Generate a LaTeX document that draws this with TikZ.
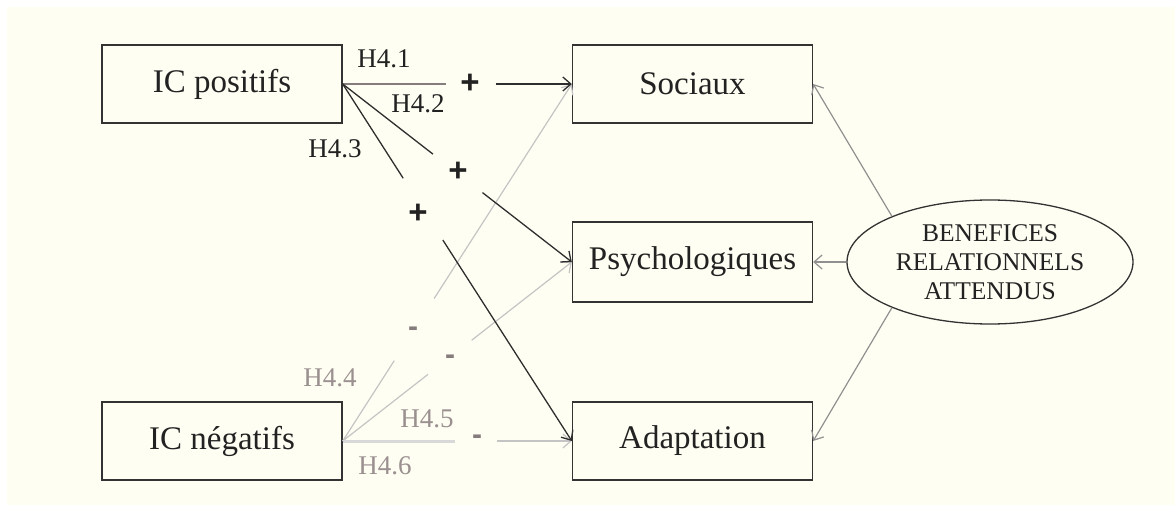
\documentclass[tikz,border=0pt]{standalone}
\usepackage{fontspec}
\setmainfont{Liberation Serif}
\newfontfamily\signfont{Liberation Sans}
\usetikzlibrary{arrows.meta,shapes.geometric,calc}
\definecolor{bgcream}{HTML}{FFFEF2}
\definecolor{boxcol}{HTML}{333333}
\definecolor{textcol}{HTML}{222222}
\definecolor{darkline}{HTML}{2E2E2E}
\definecolor{midgray}{HTML}{857D7D}
\definecolor{lightgray}{HTML}{C4C4C4}
\definecolor{palegray}{HTML}{D8D8D8}
\definecolor{ellgray}{HTML}{909090}
\definecolor{labgray}{HTML}{9A9090}
\tikzset{
  box/.style={draw=boxcol, line width=1.4pt, minimum width=240pt, minimum height=78pt,
    inner sep=0pt, font=\fontsize{33}{38}\selectfont, text=textcol},
  arr/.style={-{Straight Barb[length=8pt,width=14pt]}},
  darkseg/.style={draw=darkline, line width=1.3pt},
  thickseg/.style={draw=midgray, line width=2.8pt},
  greyseg/.style={draw=lightgray, line width=1.2pt},
  paleseg/.style={draw=palegray, line width=3pt},
  ellseg/.style={draw=ellgray, line width=1.2pt},
  hlab/.style={font=\fontsize{27}{30}\selectfont, text=textcol, inner sep=0pt},
  hlabg/.style={font=\fontsize{27}{30}\selectfont, text=labgray, inner sep=0pt},
  plussign/.style={font=\signfont\bfseries\fontsize{33}{33}\selectfont, text=textcol, inner sep=0pt},
  minussign/.style={font=\signfont\bfseries\fontsize{30}{30}\selectfont, text=midgray, inner sep=0pt}
}
\begin{document}
\begin{tikzpicture}[x=1pt,y=-1pt]
\fill[white] (0,0) rectangle (1175,505);
\fill[bgcream] (7,7) rectangle (1175,505);
\useasboundingbox (0,0) rectangle (1175,505);

% nodes
\node[box] (icp) at (222,84) {IC positifs};
\node[box] (soc) at (692.5,84) {Sociaux};
\node[box, minimum height=80pt] (psy) at (692.5,262) {Psychologiques};
\node[box] (ada) at (692.5,441) {Adaptation};
\node[box] (icn) at (222,441) {IC négatifs};
\node[draw=boxcol, line width=1.3pt, ellipse, minimum width=286pt, minimum height=124pt,
      inner sep=0pt, align=center, font=\fontsize{25.5}{29}\selectfont, text=textcol]
      (ell) at (990,262) {BENEFICES\\RELATIONNELS\\ATTENDUS};

% gap coordinates
\coordinate (a1) at ($(icp.east)!0.45!(soc.west)$);
\coordinate (a2) at ($(icp.east)!0.667!(soc.west)$);
\coordinate (b1) at ($(icp.east)!0.394!(psy.west)$);
\coordinate (b2) at ($(icp.east)!0.61!(psy.west)$);
\coordinate (c1) at ($(icp.east)!0.264!(ada.west)$);
\coordinate (c2) at ($(icp.east)!0.437!(ada.west)$);
\coordinate (d1) at ($(icn.east)!0.225!(soc.west)$);
\coordinate (d2) at ($(icn.east)!0.399!(soc.west)$);
\coordinate (e1) at ($(icn.east)!0.372!(psy.west)$);
\coordinate (e2) at ($(icn.east)!0.563!(psy.west)$);
\coordinate (f1) at ($(icn.east)!0.489!(ada.west)$);
\coordinate (f2) at ($(icn.east)!0.675!(ada.west)$);

% grey (negative) connectors
\draw[greyseg] (icn.east) -- (d1);
\draw[greyseg, arr] (d2) -- (soc.west);
\draw[greyseg] (icn.east) -- (e1);
\draw[greyseg, arr] (e2) -- (psy.west);
\draw[paleseg] (icn.east) -- (f1);
\draw[greyseg, arr] (f2) -- (ada.west);

% dark (positive) connectors
\draw[thickseg] (icp.east) -- (a1);
\draw[darkseg, arr] (a2) -- (soc.west);
\draw[darkseg] (icp.east) -- (b1);
\draw[darkseg, arr] (b2) -- (psy.west);
\draw[darkseg] (icp.east) -- (c1);
\draw[darkseg, arr] (c2) -- (ada.west);

% ellipse connectors
\draw[ellseg, arr] (ell.155) -- (soc.east);
\draw[ellseg, arr] (ell.west) -- (psy.east);
\draw[ellseg, arr] (ell.205) -- (ada.east);

% signs
\node[plussign] (s1) at (470,84) {+};
\node[plussign] (s2) at (458,172) {+};
\node[plussign] (s3) at (418,214) {+};
\node[minussign] (m1) at (413,332) {-};
\node[minussign] (m2) at (450,360) {-};
\node[minussign] (m3) at (477,440) {-};

% labels
\node[hlab] (h1) at (384,59) {H4.1};
\node[hlab] (h2) at (418,104) {H4.2};
\node[hlab] (h3) at (335,149) {H4.3};
\node[hlabg] (h4) at (330,378) {H4.4};
\node[hlabg] (h5) at (427,419) {H4.5};
\node[hlabg] (h6) at (385,466) {H4.6};
\end{tikzpicture}
\end{document}
